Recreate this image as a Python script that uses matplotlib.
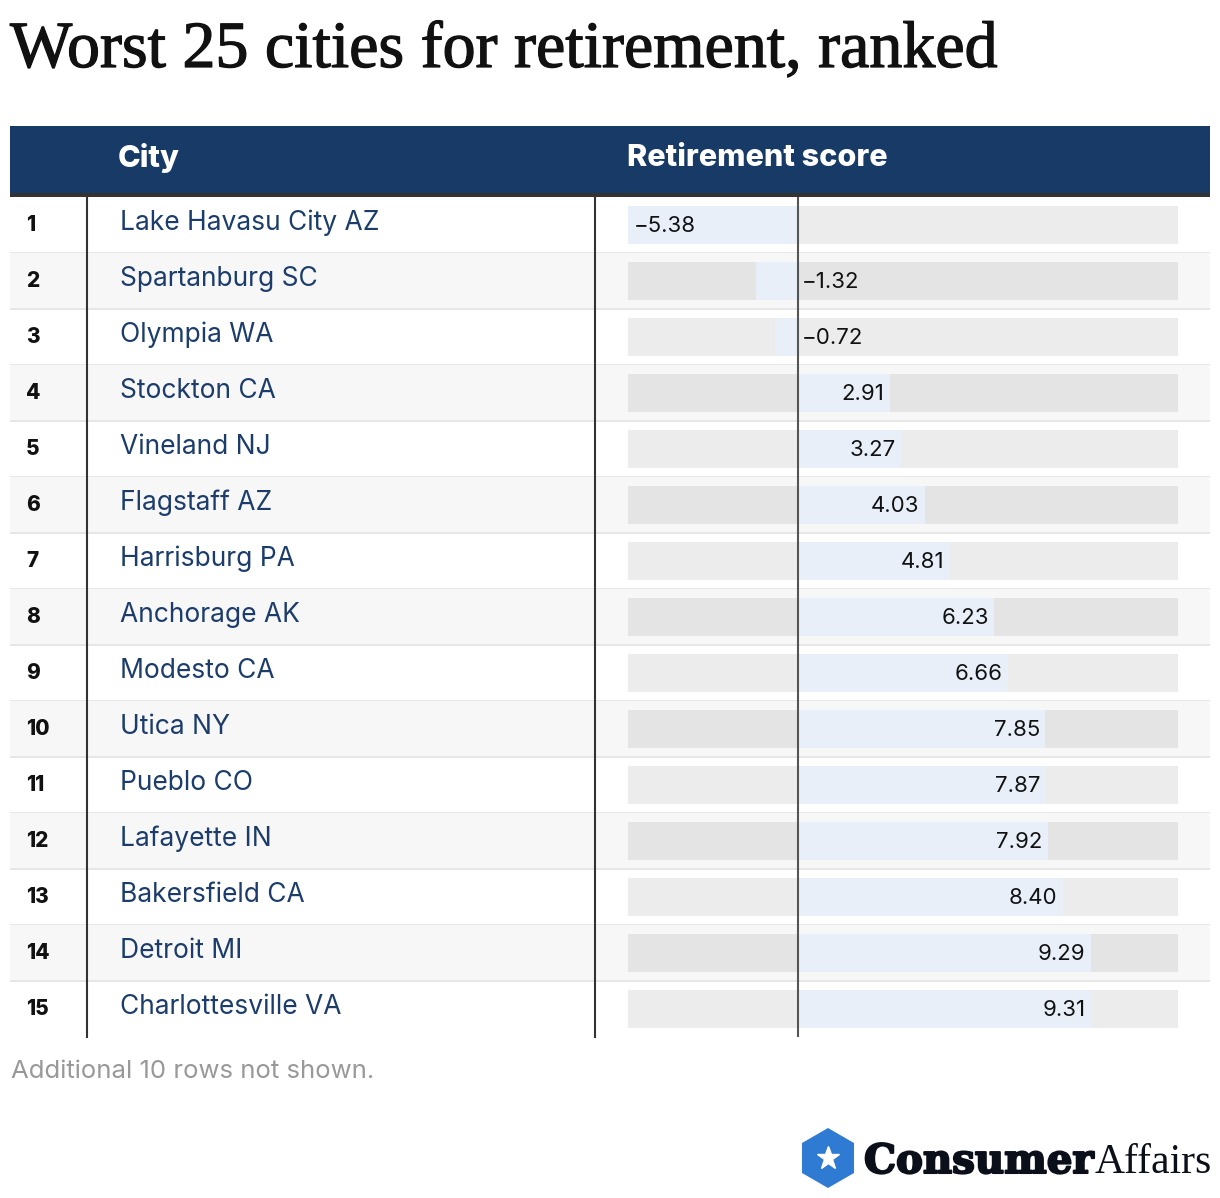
import matplotlib.pyplot as plt
import matplotlib.patheffects as pe
from matplotlib.patches import Rectangle, RegularPolygon

ranks = list(range(1, 16))
cities = ["Lake Havasu City AZ", "Spartanburg SC", "Olympia WA", "Stockton CA",
          "Vineland NJ", "Flagstaff AZ", "Harrisburg PA", "Anchorage AK",
          "Modesto CA", "Utica NY", "Pueblo CO", "Lafayette IN",
          "Bakersfield CA", "Detroit MI", "Charlottesville VA"]
scores = [-5.38, -1.32, -0.72, 2.91, 3.27, 4.03, 4.81, 6.23, 6.66, 7.85,
          7.87, 7.92, 8.40, 9.29, 9.31]
score_min, score_max = -5.38, 12.05

W, H = 1220, 1198
fig = plt.figure(figsize=(W / 100, H / 100), dpi=100)
bg = fig.add_axes([0, 0, 1, 1])
bg.set_xlim(0, W)
bg.set_ylim(H, 0)
bg.axis("off")

navy = "#173a66"
sans = ["Inter", "DejaVu Sans"]

# title
bg.text(10, 67, "Worst 25 cities for retirement, ranked", fontsize=47.5,
        family="Liberation Serif", color="#111111", va="baseline",
        path_effects=[pe.withStroke(linewidth=0.9, foreground="#111111")])

# header
top, row_h = 197, 56
bg.add_patch(Rectangle((10, 126), 1200, 68, color=navy, lw=0))
bg.add_patch(Rectangle((10, 193), 1200, 4, color="#333333", lw=0))
bg.text(118, 158, "City", color="white", fontsize=22, fontweight="heavy",
        family=sans, va="center")
bg.text(627, 158, "Retirement score", color="white", fontsize=22,
        fontweight="heavy", family=sans, va="center")

n = len(cities)
for i in range(n):
    y0 = top + i * row_h
    if i % 2 == 1:
        bg.add_patch(Rectangle((10, y0), 1200, row_h, color="#f7f7f7", lw=0))
    if i < n - 1:
        bg.add_patch(Rectangle((10, y0 + row_h - 1), 1200, 2, color="#e6e6e6", lw=0))
    yc = y0 + row_h / 2
    bg.text(26, yc, str(ranks[i]), fontsize=15, fontweight="heavy",
            family=sans, va="center", color="#111111")
    bg.text(120, yc - 2, cities[i], fontsize=19, family=sans, va="center",
            color="#1c3d6b")

bottom = top + n * row_h
bg.plot([87, 87], [top, bottom], color="#333333", lw=1.5)
bg.plot([595, 595], [top, bottom], color="#333333", lw=1.5)

# footnote
bg.text(11, 1071, "Additional 10 rows not shown.", fontsize=18.5, family=sans,
        color="#999999", va="center")

# logo
bg.add_patch(RegularPolygon((828, 1158), 6, radius=30, color="#2f7ad3", lw=0))
bg.plot(828, 1158, marker="*", ms=17, color="white", mec="white")
bg.text(864, 1173, "Consumer", fontsize=29, fontweight="heavy",
        family="DejaVu Serif", color="#0b0f1a", va="baseline",
        path_effects=[pe.withStroke(linewidth=1.5, foreground="#0b0f1a")])
bg.text(1095, 1173, "Affairs", fontsize=30, family="Liberation Serif",
        color="#0b0f1a", va="baseline")

# bar column
x0, x1 = 628, 1178
ax = fig.add_axes([x0 / W, 1 - bottom / H, (x1 - x0) / W, (bottom - top) / H])
ax.set_xlim(score_min, score_max)
ax.set_ylim(n - 0.5, -0.5)
ax.axis("off")
bar_h = 38 / 56
rows = list(range(n))
ax.barh(rows, [score_max - score_min] * n, left=score_min, height=bar_h,
        color="#000000", alpha=0.075, lw=0)
ax.barh(rows, scores, height=bar_h, color="#e8eff9", lw=0)
ax.axvline(0, color="#555555", lw=1.5)

for r, v in zip(rows, scores):
    label = f"{v:.2f}".replace("-", "\u2212")
    if v >= 0:
        ax.annotate(label, (v, r), xytext=(-4, -1), textcoords="offset points",
                    ha="right", va="center", fontsize=16, family=sans, color="#111111")
    elif v < -3:
        ax.annotate(label, (v, r), xytext=(4, -1), textcoords="offset points",
                    ha="left", va="center", fontsize=16, family=sans, color="#111111")
    else:
        ax.annotate(label, (0, r), xytext=(3, -1), textcoords="offset points",
                    ha="left", va="center", fontsize=16, family=sans, color="#111111")

fig.savefig("out.png", dpi=100)
